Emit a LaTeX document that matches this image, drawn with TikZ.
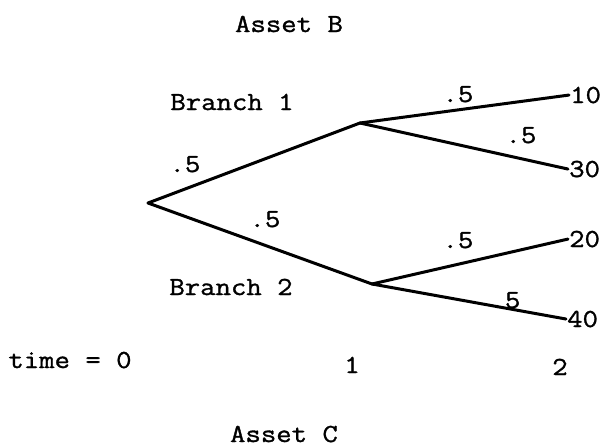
\documentclass[tikz,border=0pt]{standalone}
\usepackage{fontspec}
\setmonofont{Latin Modern Mono}[FakeStretch=1.15,FakeBold=1.2]
\begin{document}
\begin{tikzpicture}[x=1pt,y=-1pt,
  txt/.style={font=\ttfamily\fontsize{26}{30}\selectfont, inner sep=1pt, anchor=base},
  leaf/.style={txt, anchor=base west},
  branch/.style={line width=3pt, line cap=round, line join=round}]
\useasboundingbox (0,0) rectangle (611,447);
% tree points
\coordinate (r) at (148,203);
\coordinate (n1) at (360,123);
\coordinate (n2) at (372,284);
% leaves
\node[leaf] (t10) at (569,103) {10};
\node[leaf] (t30) at (568,177) {30};
\node[leaf] (t20) at (568,247) {20};
\node[leaf] (t40) at (566,327) {40};
% branches
\draw[branch] (r) -- (n1);
\draw[branch] (r) -- (n2);
\draw[branch] (n1) -- (t10.west);
\draw[branch] (n1) -- (t30.west);
\draw[branch] (n2) -- (t20.west);
\draw[branch] (n2) -- (t40.west);
% probabilities
\node[txt] (pa) at (185,172) {.5};
\node[txt] (pb) at (265,227) {.5};
\node[txt] (pc) at (458,102) {.5};
\node[txt] (pd) at (521,143) {.5};
\node[txt] (pe) at (458,248) {.5};
\node[txt] (pf) at (505,308) {.5};
% labels
\node[txt] (ab) at (289,32) {Asset B};
\node[txt] (b1) at (232,110) {Branch 1};
\node[txt] (b2) at (231,295) {Branch 2};
\node[txt] (t0) at (70,368) {time = 0};
\node[txt] (t1) at (352,373) {1};
\node[txt] (t2) at (560,375) {2};
\node[txt] (ac) at (284,442) {Asset C};
\end{tikzpicture}
\end{document}
